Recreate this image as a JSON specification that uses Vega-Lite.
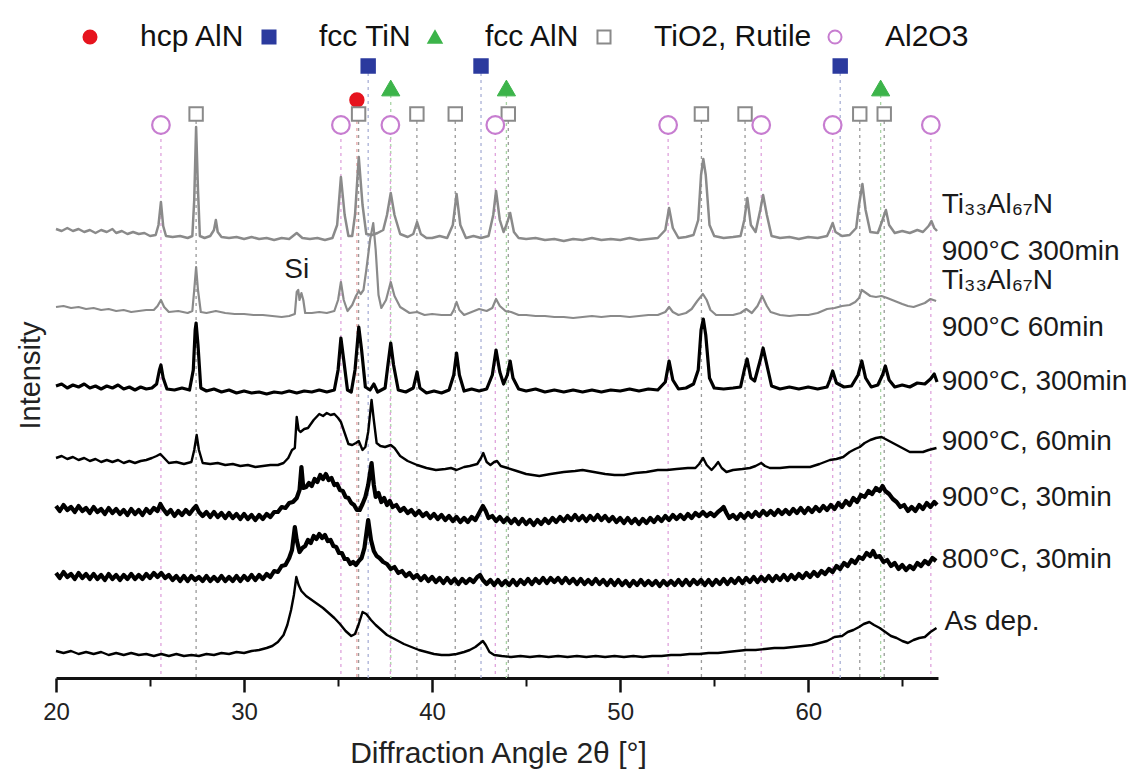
{
"$schema": "https://vega.github.io/schema/vega-lite/v6.json",
"width": 882, "height": 678,
"autosize": {"type": "none"},
"padding": {"left": 56, "top": 0, "right": 200, "bottom": 95},
"background": "white",
"config": {"view": {"stroke": null}, "font": "Liberation Sans"},
"resolve": {"axis": {"x": "independent"}},
"datasets": {
"ph": [
{"phase":"hcp AlN","pos":36.0,"lvl":578},
{"phase":"fcc TiN","pos":36.6,"lvl":612},{"phase":"fcc TiN","pos":42.6,"lvl":612},{"phase":"fcc TiN","pos":61.7,"lvl":612},
{"phase":"fcc AlN","pos":37.8,"lvl":590},{"phase":"fcc AlN","pos":43.95,"lvl":590},{"phase":"fcc AlN","pos":63.85,"lvl":590},
{"phase":"TiO2, Rutile","pos":27.45,"lvl":564},{"phase":"TiO2, Rutile","pos":36.09,"lvl":564},{"phase":"TiO2, Rutile","pos":39.19,"lvl":564},{"phase":"TiO2, Rutile","pos":41.23,"lvl":564},{"phase":"TiO2, Rutile","pos":44.05,"lvl":564},{"phase":"TiO2, Rutile","pos":54.32,"lvl":564},{"phase":"TiO2, Rutile","pos":56.64,"lvl":564},{"phase":"TiO2, Rutile","pos":62.74,"lvl":564},{"phase":"TiO2, Rutile","pos":64.04,"lvl":564},
{"phase":"Al2O3","pos":25.58,"lvl":553},{"phase":"Al2O3","pos":35.15,"lvl":553},{"phase":"Al2O3","pos":37.78,"lvl":553},{"phase":"Al2O3","pos":43.36,"lvl":553},{"phase":"Al2O3","pos":52.55,"lvl":553},{"phase":"Al2O3","pos":57.5,"lvl":553},{"phase":"Al2O3","pos":61.3,"lvl":553},{"phase":"Al2O3","pos":66.52,"lvl":553}
],
"lab": [
{"label":"Ti₃₃Al₆₇N","x":67.1,"y":473},
{"label":"900°C 300min","x":67.1,"y":426},
{"label":"Ti₃₃Al₆₇N","x":67.1,"y":397},
{"label":"900°C 60min","x":67.1,"y":350},
{"label":"900°C, 300min","x":67.1,"y":296},
{"label":"900°C, 60min","x":67.1,"y":236},
{"label":"900°C, 30min","x":67.1,"y":180},
{"label":"800°C, 30min","x":67.1,"y":118},
{"label":"As dep.","x":67.25,"y":56}
],
"si": [{"label":"Si","x":32.8,"y":408}],
"t1": [{"x":20,"y":449},{"x":20.3,"y":447},{"x":20.6,"y":450},{"x":20.9,"y":447},{"x":21.2,"y":449},{"x":21.5,"y":446},{"x":21.8,"y":448},{"x":22.1,"y":445},{"x":22.4,"y":448},{"x":22.7,"y":446},{"x":23,"y":449},{"x":23.2,"y":445},{"x":23.5,"y":447},{"x":23.8,"y":444},{"x":24.1,"y":446},{"x":24.4,"y":444},{"x":24.7,"y":445},{"x":25,"y":442},{"x":25.3,"y":443},{"x":25.45,"y":453},{"x":25.58,"y":476},{"x":25.7,"y":452},{"x":25.85,"y":442},{"x":26.2,"y":441},{"x":26.6,"y":442},{"x":27,"y":440},{"x":27.25,"y":442},{"x":27.35,"y":478},{"x":27.45,"y":551},{"x":27.55,"y":488},{"x":27.65,"y":442},{"x":27.9,"y":440},{"x":28.2,"y":442},{"x":28.4,"y":448},{"x":28.5,"y":458},{"x":28.6,"y":446},{"x":28.8,"y":441},{"x":29.2,"y":440},{"x":29.6,"y":441},{"x":30,"y":439},{"x":30.4,"y":441},{"x":30.8,"y":439},{"x":31.2,"y":440},{"x":31.6,"y":438},{"x":32,"y":440},{"x":32.4,"y":439},{"x":32.8,"y":445},{"x":33.1,"y":440},{"x":33.5,"y":439},{"x":33.9,"y":440},{"x":34.3,"y":438},{"x":34.7,"y":440},{"x":34.95,"y":453},{"x":35.15,"y":501},{"x":35.35,"y":463},{"x":35.55,"y":442},{"x":35.75,"y":442},{"x":35.9,"y":463},{"x":36.1,"y":521},{"x":36.3,"y":473},{"x":36.5,"y":444},{"x":36.8,"y":443},{"x":37.1,"y":445},{"x":37.4,"y":448},{"x":37.6,"y":463},{"x":37.8,"y":485},{"x":38,"y":463},{"x":38.3,"y":444},{"x":38.7,"y":441},{"x":39,"y":444},{"x":39.2,"y":456},{"x":39.4,"y":444},{"x":39.7,"y":440},{"x":40,"y":440},{"x":40.4,"y":442},{"x":40.8,"y":440},{"x":41.1,"y":453},{"x":41.3,"y":484},{"x":41.5,"y":453},{"x":41.8,"y":440},{"x":42.2,"y":442},{"x":42.6,"y":440},{"x":43,"y":442},{"x":43.25,"y":463},{"x":43.4,"y":487},{"x":43.6,"y":458},{"x":43.8,"y":446},{"x":43.95,"y":453},{"x":44.15,"y":465},{"x":44.35,"y":446},{"x":44.6,"y":440},{"x":45,"y":439},{"x":45.5,"y":440},{"x":46,"y":438},{"x":46.5,"y":439},{"x":47,"y":437},{"x":47.5,"y":439},{"x":48,"y":438},{"x":48.5,"y":440},{"x":49,"y":438},{"x":49.5,"y":439},{"x":50,"y":438},{"x":50.5,"y":440},{"x":51,"y":438},{"x":51.5,"y":439},{"x":52,"y":440},{"x":52.4,"y":448},{"x":52.6,"y":470},{"x":52.8,"y":450},{"x":53.1,"y":440},{"x":53.5,"y":441},{"x":53.9,"y":443},{"x":54.15,"y":458},{"x":54.3,"y":503},{"x":54.42,"y":519},{"x":54.55,"y":503},{"x":54.75,"y":453},{"x":55,"y":442},{"x":55.5,"y":440},{"x":56,"y":441},{"x":56.4,"y":442},{"x":56.6,"y":458},{"x":56.76,"y":480},{"x":56.95,"y":453},{"x":57.2,"y":446},{"x":57.45,"y":468},{"x":57.6,"y":483},{"x":57.8,"y":463},{"x":58.05,"y":442},{"x":58.5,"y":440},{"x":59,"y":441},{"x":59.5,"y":439},{"x":60,"y":441},{"x":60.5,"y":440},{"x":61,"y":442},{"x":61.15,"y":448},{"x":61.3,"y":455},{"x":61.45,"y":446},{"x":61.8,"y":442},{"x":62.2,"y":443},{"x":62.55,"y":450},{"x":62.7,"y":473},{"x":62.88,"y":494},{"x":63.05,"y":468},{"x":63.3,"y":446},{"x":63.7,"y":445},{"x":63.95,"y":458},{"x":64.13,"y":468},{"x":64.3,"y":453},{"x":64.6,"y":445},{"x":65,"y":447},{"x":65.4,"y":445},{"x":65.8,"y":448},{"x":66.1,"y":446},{"x":66.4,"y":452},{"x":66.55,"y":457},{"x":66.7,"y":450},{"x":66.85,"y":447}],
"t2": [{"x":20,"y":371},{"x":20.4,"y":372},{"x":20.8,"y":370},{"x":21.2,"y":371},{"x":21.6,"y":369},{"x":22,"y":370},{"x":22.4,"y":368},{"x":22.8,"y":369},{"x":23.2,"y":367},{"x":23.6,"y":368},{"x":24,"y":366},{"x":24.4,"y":367},{"x":24.8,"y":368},{"x":25.2,"y":368},{"x":25.4,"y":372},{"x":25.58,"y":378},{"x":25.75,"y":371},{"x":26,"y":366},{"x":26.5,"y":367},{"x":27,"y":365},{"x":27.25,"y":367},{"x":27.35,"y":388},{"x":27.45,"y":411},{"x":27.55,"y":388},{"x":27.7,"y":366},{"x":28,"y":365},{"x":28.5,"y":367},{"x":29,"y":365},{"x":29.5,"y":364},{"x":30,"y":364},{"x":30.5,"y":363},{"x":31,"y":363},{"x":31.5,"y":362},{"x":32,"y":361},{"x":32.4,"y":362},{"x":32.7,"y":364},{"x":32.8,"y":386},{"x":32.88,"y":388},{"x":32.95,"y":378},{"x":33.05,"y":385},{"x":33.15,"y":378},{"x":33.25,"y":365},{"x":33.6,"y":365},{"x":34,"y":366},{"x":34.4,"y":365},{"x":34.8,"y":367},{"x":35,"y":378},{"x":35.15,"y":396},{"x":35.3,"y":378},{"x":35.5,"y":367},{"x":35.75,"y":373},{"x":35.95,"y":382},{"x":36.1,"y":387},{"x":36.2,"y":384},{"x":36.35,"y":388},{"x":36.5,"y":408},{"x":36.7,"y":438},{"x":36.87,"y":455},{"x":37,"y":428},{"x":37.15,"y":383},{"x":37.3,"y":370},{"x":37.55,"y":378},{"x":37.8,"y":396},{"x":38,"y":382},{"x":38.3,"y":371},{"x":38.8,"y":365},{"x":39.2,"y":366},{"x":39.6,"y":363},{"x":40,"y":364},{"x":40.5,"y":363},{"x":41,"y":363},{"x":41.15,"y":368},{"x":41.3,"y":376},{"x":41.45,"y":368},{"x":41.7,"y":363},{"x":42.1,"y":366},{"x":42.5,"y":369},{"x":42.9,"y":367},{"x":43.2,"y":370},{"x":43.4,"y":379},{"x":43.6,"y":372},{"x":43.9,"y":367},{"x":44.2,"y":366},{"x":44.6,"y":363},{"x":45,"y":363},{"x":45.5,"y":362},{"x":46,"y":362},{"x":46.5,"y":361},{"x":47,"y":361},{"x":47.5,"y":360},{"x":48,"y":361},{"x":48.5,"y":362},{"x":49,"y":361},{"x":49.5,"y":362},{"x":50,"y":362},{"x":50.5,"y":361},{"x":51,"y":362},{"x":51.5,"y":363},{"x":52,"y":363},{"x":52.4,"y":366},{"x":52.6,"y":371},{"x":52.8,"y":366},{"x":53.1,"y":363},{"x":53.5,"y":365},{"x":53.8,"y":369},{"x":54.1,"y":377},{"x":54.4,"y":384},{"x":54.6,"y":378},{"x":54.8,"y":368},{"x":55.1,"y":363},{"x":55.5,"y":363},{"x":56,"y":363},{"x":56.4,"y":365},{"x":56.7,"y":369},{"x":57,"y":365},{"x":57.3,"y":372},{"x":57.55,"y":382},{"x":57.8,"y":372},{"x":58,"y":366},{"x":58.5,"y":363},{"x":59,"y":362},{"x":59.5,"y":363},{"x":60,"y":363},{"x":60.5,"y":365},{"x":61,"y":369},{"x":61.4,"y":370},{"x":61.8,"y":372},{"x":62.2,"y":373},{"x":62.5,"y":376},{"x":62.7,"y":380},{"x":62.85,"y":388},{"x":63,"y":386},{"x":63.3,"y":382},{"x":63.6,"y":381},{"x":63.9,"y":382},{"x":64.2,"y":380},{"x":64.6,"y":377},{"x":65,"y":374},{"x":65.3,"y":372},{"x":65.6,"y":371},{"x":65.9,"y":373},{"x":66.2,"y":375},{"x":66.5,"y":379},{"x":66.8,"y":377}],
"t3": [{"x":20,"y":292},{"x":20.3,"y":294},{"x":20.6,"y":290},{"x":20.9,"y":293},{"x":21.2,"y":291},{"x":21.5,"y":294},{"x":21.8,"y":290},{"x":22.1,"y":292},{"x":22.4,"y":289},{"x":22.7,"y":292},{"x":23,"y":290},{"x":23.3,"y":293},{"x":23.6,"y":289},{"x":23.9,"y":291},{"x":24.2,"y":288},{"x":24.5,"y":291},{"x":24.8,"y":289},{"x":25.1,"y":290},{"x":25.35,"y":294},{"x":25.5,"y":308},{"x":25.58,"y":313},{"x":25.7,"y":300},{"x":25.9,"y":289},{"x":26.3,"y":288},{"x":26.7,"y":290},{"x":27.1,"y":288},{"x":27.3,"y":308},{"x":27.4,"y":348},{"x":27.45,"y":355},{"x":27.55,"y":333},{"x":27.7,"y":290},{"x":28,"y":287},{"x":28.4,"y":289},{"x":28.8,"y":286},{"x":29.2,"y":288},{"x":29.6,"y":285},{"x":30,"y":287},{"x":30.4,"y":285},{"x":30.8,"y":286},{"x":31.2,"y":284},{"x":31.6,"y":286},{"x":32,"y":285},{"x":32.4,"y":287},{"x":32.8,"y":285},{"x":33.2,"y":287},{"x":33.6,"y":286},{"x":34,"y":288},{"x":34.4,"y":286},{"x":34.8,"y":288},{"x":35,"y":308},{"x":35.15,"y":340},{"x":35.3,"y":318},{"x":35.5,"y":288},{"x":35.7,"y":286},{"x":35.9,"y":308},{"x":36.1,"y":351},{"x":36.25,"y":328},{"x":36.45,"y":291},{"x":36.7,"y":288},{"x":36.9,"y":294},{"x":37.1,"y":286},{"x":37.5,"y":290},{"x":37.65,"y":313},{"x":37.8,"y":335},{"x":37.95,"y":313},{"x":38.2,"y":288},{"x":38.6,"y":286},{"x":39,"y":290},{"x":39.2,"y":306},{"x":39.35,"y":290},{"x":39.7,"y":285},{"x":40.1,"y":287},{"x":40.5,"y":285},{"x":40.9,"y":288},{"x":41.15,"y":303},{"x":41.3,"y":325},{"x":41.45,"y":303},{"x":41.7,"y":287},{"x":42.1,"y":289},{"x":42.5,"y":287},{"x":42.9,"y":289},{"x":43.2,"y":303},{"x":43.4,"y":328},{"x":43.6,"y":306},{"x":43.8,"y":294},{"x":44,"y":303},{"x":44.15,"y":317},{"x":44.3,"y":300},{"x":44.6,"y":289},{"x":45,"y":287},{"x":45.5,"y":289},{"x":46,"y":286},{"x":46.5,"y":288},{"x":47,"y":286},{"x":47.5,"y":288},{"x":48,"y":286},{"x":48.5,"y":288},{"x":49,"y":286},{"x":49.5,"y":288},{"x":50,"y":287},{"x":50.5,"y":289},{"x":51,"y":287},{"x":51.5,"y":289},{"x":52,"y":288},{"x":52.4,"y":296},{"x":52.6,"y":317},{"x":52.8,"y":298},{"x":53.1,"y":289},{"x":53.5,"y":290},{"x":53.9,"y":294},{"x":54.15,"y":308},{"x":54.3,"y":348},{"x":54.42,"y":359},{"x":54.55,"y":343},{"x":54.75,"y":300},{"x":55,"y":290},{"x":55.5,"y":289},{"x":56,"y":290},{"x":56.4,"y":291},{"x":56.6,"y":308},{"x":56.75,"y":319},{"x":56.95,"y":300},{"x":57.15,"y":297},{"x":57.45,"y":318},{"x":57.6,"y":330},{"x":57.8,"y":313},{"x":58.05,"y":292},{"x":58.5,"y":289},{"x":59,"y":291},{"x":59.5,"y":289},{"x":60,"y":291},{"x":60.5,"y":289},{"x":61,"y":291},{"x":61.15,"y":298},{"x":61.3,"y":307},{"x":61.5,"y":295},{"x":61.9,"y":291},{"x":62.3,"y":292},{"x":62.65,"y":303},{"x":62.85,"y":317},{"x":63.05,"y":300},{"x":63.35,"y":291},{"x":63.7,"y":293},{"x":63.95,"y":303},{"x":64.1,"y":312},{"x":64.3,"y":298},{"x":64.6,"y":291},{"x":65,"y":293},{"x":65.4,"y":291},{"x":65.8,"y":295},{"x":66.2,"y":294},{"x":66.5,"y":299},{"x":66.7,"y":304},{"x":66.85,"y":296}],
"t4": [{"x":20,"y":220},{"x":20.3,"y":222},{"x":20.6,"y":219},{"x":20.9,"y":221},{"x":21.2,"y":218},{"x":21.5,"y":220},{"x":21.8,"y":217},{"x":22.1,"y":219},{"x":22.4,"y":216},{"x":22.7,"y":218},{"x":23,"y":216},{"x":23.3,"y":218},{"x":23.6,"y":215},{"x":23.9,"y":217},{"x":24.2,"y":215},{"x":24.5,"y":217},{"x":24.8,"y":218},{"x":25.1,"y":220},{"x":25.35,"y":222},{"x":25.55,"y":224},{"x":25.75,"y":220},{"x":26,"y":215},{"x":26.4,"y":216},{"x":26.8,"y":214},{"x":27.2,"y":216},{"x":27.35,"y":228},{"x":27.48,"y":243},{"x":27.6,"y":228},{"x":27.8,"y":215},{"x":28.2,"y":214},{"x":28.6,"y":215},{"x":29,"y":213},{"x":29.4,"y":214},{"x":29.8,"y":212},{"x":30.2,"y":213},{"x":30.6,"y":211},{"x":31,"y":212},{"x":31.4,"y":213},{"x":31.8,"y":213},{"x":32.1,"y":215},{"x":32.35,"y":220},{"x":32.55,"y":228},{"x":32.7,"y":230},{"x":32.8,"y":261},{"x":32.9,"y":248},{"x":33,"y":246},{"x":33.2,"y":249},{"x":33.4,"y":250},{"x":33.7,"y":258},{"x":34,"y":264},{"x":34.2,"y":262},{"x":34.4,"y":265},{"x":34.6,"y":263},{"x":34.8,"y":264},{"x":35,"y":260},{"x":35.15,"y":256},{"x":35.35,"y":245},{"x":35.55,"y":234},{"x":35.75,"y":233},{"x":35.95,"y":235},{"x":36.1,"y":237},{"x":36.3,"y":228},{"x":36.45,"y":231},{"x":36.6,"y":246},{"x":36.78,"y":278},{"x":36.9,"y":258},{"x":37.05,"y":235},{"x":37.25,"y":232},{"x":37.5,"y":231},{"x":37.8,"y":233},{"x":38,"y":230},{"x":38.3,"y":222},{"x":38.7,"y":217},{"x":39.2,"y":213},{"x":39.7,"y":210},{"x":40.2,"y":208},{"x":40.7,"y":209},{"x":41,"y":210},{"x":41.3,"y":208},{"x":41.7,"y":211},{"x":42,"y":212},{"x":42.4,"y":214},{"x":42.6,"y":220},{"x":42.72,"y":225},{"x":42.9,"y":216},{"x":43.1,"y":213},{"x":43.3,"y":216},{"x":43.45,"y":217},{"x":43.65,"y":212},{"x":44,"y":210},{"x":44.5,"y":207},{"x":45,"y":204},{"x":45.7,"y":202},{"x":46.3,"y":204},{"x":47,"y":206},{"x":47.6,"y":207},{"x":48,"y":208},{"x":48.6,"y":206},{"x":49.2,"y":204},{"x":49.7,"y":203},{"x":50.2,"y":203},{"x":50.8,"y":205},{"x":51.4,"y":206},{"x":52,"y":208},{"x":52.5,"y":208},{"x":53,"y":209},{"x":53.6,"y":210},{"x":54,"y":210},{"x":54.2,"y":214},{"x":54.41,"y":220},{"x":54.6,"y":213},{"x":54.86,"y":208},{"x":55.05,"y":212},{"x":55.21,"y":216},{"x":55.4,"y":210},{"x":55.65,"y":206},{"x":56,"y":208},{"x":56.5,"y":209},{"x":56.9,"y":210},{"x":57.2,"y":212},{"x":57.5,"y":215},{"x":57.7,"y":212},{"x":57.96,"y":210},{"x":58.5,"y":210},{"x":59,"y":211},{"x":59.5,"y":211},{"x":60.1,"y":211},{"x":60.6,"y":214},{"x":61.15,"y":218},{"x":61.5,"y":219},{"x":61.86,"y":221},{"x":62.2,"y":226},{"x":62.5,"y":229},{"x":62.74,"y":231},{"x":63,"y":235},{"x":63.3,"y":238},{"x":63.6,"y":240},{"x":63.9,"y":241},{"x":64.1,"y":239},{"x":64.4,"y":236},{"x":64.7,"y":233},{"x":65,"y":230},{"x":65.4,"y":226},{"x":65.8,"y":226},{"x":66.1,"y":226},{"x":66.4,"y":228},{"x":66.82,"y":230}],
"t5": [{"x":20,"y":172},{"x":20.2,"y":167},{"x":20.4,"y":173},{"x":20.6,"y":168},{"x":20.8,"y":171},{"x":21,"y":166},{"x":21.2,"y":172},{"x":21.4,"y":167},{"x":21.6,"y":170},{"x":21.8,"y":165},{"x":22,"y":171},{"x":22.2,"y":166},{"x":22.4,"y":169},{"x":22.6,"y":164},{"x":22.8,"y":170},{"x":23,"y":165},{"x":23.2,"y":169},{"x":23.4,"y":164},{"x":23.6,"y":168},{"x":23.8,"y":163},{"x":24,"y":169},{"x":24.2,"y":164},{"x":24.4,"y":168},{"x":24.6,"y":163},{"x":24.8,"y":169},{"x":25,"y":165},{"x":25.2,"y":170},{"x":25.4,"y":167},{"x":25.55,"y":174},{"x":25.7,"y":169},{"x":25.9,"y":164},{"x":26.1,"y":168},{"x":26.3,"y":162},{"x":26.5,"y":167},{"x":26.7,"y":163},{"x":26.9,"y":168},{"x":27.1,"y":164},{"x":27.3,"y":169},{"x":27.45,"y":172},{"x":27.6,"y":166},{"x":27.8,"y":162},{"x":28,"y":166},{"x":28.2,"y":161},{"x":28.4,"y":166},{"x":28.6,"y":161},{"x":28.8,"y":165},{"x":29,"y":160},{"x":29.2,"y":165},{"x":29.4,"y":160},{"x":29.6,"y":164},{"x":29.8,"y":159},{"x":30,"y":164},{"x":30.2,"y":159},{"x":30.4,"y":163},{"x":30.6,"y":158},{"x":30.8,"y":163},{"x":31,"y":159},{"x":31.2,"y":164},{"x":31.4,"y":161},{"x":31.6,"y":166},{"x":31.8,"y":166},{"x":32,"y":171},{"x":32.2,"y":170},{"x":32.4,"y":175},{"x":32.6,"y":176},{"x":32.8,"y":180},{"x":32.95,"y":188},{"x":33.05,"y":211},{"x":33.15,"y":190},{"x":33.3,"y":191},{"x":33.45,"y":195},{"x":33.6,"y":192},{"x":33.75,"y":199},{"x":33.9,"y":196},{"x":34.05,"y":203},{"x":34.2,"y":199},{"x":34.35,"y":204},{"x":34.5,"y":198},{"x":34.65,"y":200},{"x":34.8,"y":193},{"x":34.95,"y":194},{"x":35.1,"y":188},{"x":35.25,"y":187},{"x":35.4,"y":181},{"x":35.55,"y":180},{"x":35.7,"y":175},{"x":35.85,"y":173},{"x":36,"y":168},{"x":36.15,"y":168},{"x":36.3,"y":174},{"x":36.45,"y":181},{"x":36.6,"y":193},{"x":36.78,"y":215},{"x":36.9,"y":193},{"x":37,"y":181},{"x":37.15,"y":185},{"x":37.3,"y":176},{"x":37.45,"y":180},{"x":37.6,"y":173},{"x":37.75,"y":177},{"x":37.9,"y":171},{"x":38.1,"y":173},{"x":38.3,"y":167},{"x":38.5,"y":170},{"x":38.7,"y":165},{"x":38.9,"y":168},{"x":39.1,"y":163},{"x":39.3,"y":167},{"x":39.5,"y":162},{"x":39.7,"y":165},{"x":39.9,"y":160},{"x":40.1,"y":164},{"x":40.3,"y":159},{"x":40.5,"y":163},{"x":40.7,"y":158},{"x":40.9,"y":162},{"x":41.1,"y":157},{"x":41.3,"y":161},{"x":41.5,"y":156},{"x":41.7,"y":160},{"x":41.9,"y":156},{"x":42.1,"y":161},{"x":42.3,"y":158},{"x":42.5,"y":165},{"x":42.7,"y":172},{"x":42.85,"y":167},{"x":43,"y":160},{"x":43.2,"y":162},{"x":43.4,"y":157},{"x":43.6,"y":161},{"x":43.8,"y":156},{"x":44,"y":160},{"x":44.2,"y":155},{"x":44.4,"y":159},{"x":44.6,"y":154},{"x":44.8,"y":159},{"x":45,"y":154},{"x":45.2,"y":158},{"x":45.4,"y":153},{"x":45.6,"y":158},{"x":45.8,"y":154},{"x":46,"y":159},{"x":46.2,"y":155},{"x":46.4,"y":160},{"x":46.6,"y":156},{"x":46.8,"y":161},{"x":47,"y":157},{"x":47.2,"y":162},{"x":47.4,"y":158},{"x":47.6,"y":163},{"x":47.8,"y":158},{"x":48,"y":162},{"x":48.2,"y":157},{"x":48.4,"y":162},{"x":48.6,"y":158},{"x":48.8,"y":163},{"x":49,"y":158},{"x":49.2,"y":162},{"x":49.4,"y":157},{"x":49.6,"y":161},{"x":49.8,"y":156},{"x":50,"y":160},{"x":50.2,"y":155},{"x":50.4,"y":160},{"x":50.6,"y":155},{"x":50.8,"y":159},{"x":51,"y":154},{"x":51.2,"y":159},{"x":51.4,"y":155},{"x":51.6,"y":160},{"x":51.8,"y":156},{"x":52,"y":161},{"x":52.2,"y":157},{"x":52.4,"y":162},{"x":52.6,"y":158},{"x":52.8,"y":163},{"x":53,"y":159},{"x":53.2,"y":163},{"x":53.4,"y":159},{"x":53.6,"y":164},{"x":53.8,"y":160},{"x":54,"y":165},{"x":54.2,"y":162},{"x":54.4,"y":166},{"x":54.6,"y":162},{"x":54.8,"y":165},{"x":55,"y":162},{"x":55.2,"y":166},{"x":55.4,"y":169},{"x":55.5,"y":171},{"x":55.65,"y":165},{"x":55.8,"y":160},{"x":56,"y":163},{"x":56.2,"y":159},{"x":56.4,"y":164},{"x":56.6,"y":160},{"x":56.8,"y":165},{"x":57,"y":161},{"x":57.2,"y":166},{"x":57.4,"y":162},{"x":57.6,"y":167},{"x":57.8,"y":163},{"x":58,"y":167},{"x":58.2,"y":163},{"x":58.4,"y":168},{"x":58.6,"y":164},{"x":58.8,"y":168},{"x":59,"y":164},{"x":59.2,"y":169},{"x":59.4,"y":165},{"x":59.6,"y":170},{"x":59.8,"y":165},{"x":60,"y":170},{"x":60.2,"y":166},{"x":60.4,"y":171},{"x":60.6,"y":167},{"x":60.8,"y":172},{"x":61,"y":168},{"x":61.2,"y":173},{"x":61.4,"y":169},{"x":61.6,"y":175},{"x":61.8,"y":171},{"x":62,"y":177},{"x":62.2,"y":173},{"x":62.4,"y":180},{"x":62.6,"y":176},{"x":62.8,"y":183},{"x":63,"y":181},{"x":63.2,"y":187},{"x":63.4,"y":184},{"x":63.6,"y":190},{"x":63.8,"y":187},{"x":63.95,"y":192},{"x":64.1,"y":187},{"x":64.3,"y":184},{"x":64.5,"y":179},{"x":64.7,"y":176},{"x":64.9,"y":171},{"x":65.1,"y":173},{"x":65.3,"y":167},{"x":65.5,"y":171},{"x":65.7,"y":167},{"x":65.9,"y":173},{"x":66.1,"y":169},{"x":66.3,"y":175},{"x":66.5,"y":171},{"x":66.7,"y":176},{"x":66.85,"y":173}],
"t6": [{"x":20,"y":105},{"x":20.2,"y":100},{"x":20.4,"y":106},{"x":20.6,"y":101},{"x":20.8,"y":104},{"x":21,"y":99},{"x":21.2,"y":105},{"x":21.4,"y":100},{"x":21.6,"y":104},{"x":21.8,"y":99},{"x":22,"y":104},{"x":22.2,"y":99},{"x":22.4,"y":103},{"x":22.6,"y":98},{"x":22.8,"y":104},{"x":23,"y":99},{"x":23.2,"y":103},{"x":23.4,"y":98},{"x":23.6,"y":103},{"x":23.8,"y":99},{"x":24,"y":104},{"x":24.2,"y":99},{"x":24.4,"y":103},{"x":24.6,"y":99},{"x":24.8,"y":104},{"x":25,"y":100},{"x":25.2,"y":105},{"x":25.4,"y":101},{"x":25.6,"y":105},{"x":25.8,"y":100},{"x":26,"y":103},{"x":26.2,"y":98},{"x":26.4,"y":102},{"x":26.6,"y":97},{"x":26.8,"y":102},{"x":27,"y":97},{"x":27.2,"y":102},{"x":27.4,"y":98},{"x":27.6,"y":101},{"x":27.8,"y":97},{"x":28,"y":102},{"x":28.2,"y":97},{"x":28.4,"y":101},{"x":28.6,"y":97},{"x":28.8,"y":102},{"x":29,"y":97},{"x":29.2,"y":101},{"x":29.4,"y":97},{"x":29.6,"y":102},{"x":29.8,"y":97},{"x":30,"y":102},{"x":30.2,"y":98},{"x":30.4,"y":103},{"x":30.6,"y":98},{"x":30.8,"y":103},{"x":31,"y":99},{"x":31.2,"y":104},{"x":31.4,"y":101},{"x":31.6,"y":107},{"x":31.8,"y":106},{"x":32,"y":112},{"x":32.2,"y":113},{"x":32.4,"y":120},{"x":32.55,"y":128},{"x":32.7,"y":151},{"x":32.8,"y":138},{"x":32.95,"y":126},{"x":33.1,"y":130},{"x":33.25,"y":132},{"x":33.4,"y":138},{"x":33.55,"y":135},{"x":33.7,"y":142},{"x":33.85,"y":139},{"x":34,"y":144},{"x":34.15,"y":140},{"x":34.3,"y":143},{"x":34.45,"y":137},{"x":34.6,"y":138},{"x":34.75,"y":132},{"x":34.9,"y":131},{"x":35.05,"y":125},{"x":35.2,"y":125},{"x":35.35,"y":119},{"x":35.5,"y":119},{"x":35.65,"y":114},{"x":35.8,"y":116},{"x":35.95,"y":113},{"x":36.1,"y":117},{"x":36.25,"y":120},{"x":36.4,"y":130},{"x":36.6,"y":158},{"x":36.75,"y":138},{"x":36.9,"y":127},{"x":37.05,"y":122},{"x":37.2,"y":120},{"x":37.4,"y":116},{"x":37.6,"y":114},{"x":37.8,"y":109},{"x":38,"y":111},{"x":38.2,"y":105},{"x":38.4,"y":107},{"x":38.6,"y":102},{"x":38.8,"y":105},{"x":39,"y":100},{"x":39.2,"y":103},{"x":39.4,"y":98},{"x":39.6,"y":102},{"x":39.8,"y":97},{"x":40,"y":101},{"x":40.2,"y":96},{"x":40.4,"y":100},{"x":40.6,"y":95},{"x":40.8,"y":100},{"x":41,"y":95},{"x":41.2,"y":99},{"x":41.4,"y":94},{"x":41.6,"y":99},{"x":41.8,"y":95},{"x":42,"y":99},{"x":42.2,"y":96},{"x":42.4,"y":101},{"x":42.55,"y":103},{"x":42.7,"y":98},{"x":42.9,"y":94},{"x":43.1,"y":98},{"x":43.3,"y":93},{"x":43.5,"y":98},{"x":43.7,"y":93},{"x":43.9,"y":97},{"x":44.1,"y":93},{"x":44.3,"y":98},{"x":44.5,"y":93},{"x":44.7,"y":98},{"x":44.9,"y":94},{"x":45.1,"y":99},{"x":45.3,"y":94},{"x":45.5,"y":99},{"x":45.7,"y":95},{"x":45.9,"y":100},{"x":46.1,"y":95},{"x":46.3,"y":100},{"x":46.5,"y":96},{"x":46.7,"y":100},{"x":46.9,"y":95},{"x":47.1,"y":100},{"x":47.3,"y":95},{"x":47.5,"y":99},{"x":47.7,"y":94},{"x":47.9,"y":99},{"x":48.1,"y":94},{"x":48.3,"y":98},{"x":48.5,"y":94},{"x":48.7,"y":99},{"x":48.9,"y":94},{"x":49.1,"y":98},{"x":49.3,"y":93},{"x":49.5,"y":98},{"x":49.7,"y":93},{"x":49.9,"y":98},{"x":50.1,"y":93},{"x":50.3,"y":97},{"x":50.5,"y":92},{"x":50.7,"y":97},{"x":50.9,"y":93},{"x":51.1,"y":98},{"x":51.3,"y":93},{"x":51.5,"y":97},{"x":51.7,"y":93},{"x":51.9,"y":97},{"x":52.1,"y":92},{"x":52.3,"y":97},{"x":52.5,"y":93},{"x":52.7,"y":97},{"x":52.9,"y":93},{"x":53.1,"y":98},{"x":53.3,"y":93},{"x":53.5,"y":98},{"x":53.7,"y":93},{"x":53.9,"y":98},{"x":54.1,"y":94},{"x":54.3,"y":98},{"x":54.5,"y":93},{"x":54.7,"y":98},{"x":54.9,"y":93},{"x":55.1,"y":98},{"x":55.3,"y":94},{"x":55.5,"y":99},{"x":55.7,"y":94},{"x":55.9,"y":99},{"x":56.1,"y":95},{"x":56.3,"y":100},{"x":56.5,"y":95},{"x":56.7,"y":100},{"x":56.9,"y":96},{"x":57.1,"y":101},{"x":57.3,"y":96},{"x":57.5,"y":101},{"x":57.7,"y":97},{"x":57.9,"y":102},{"x":58.1,"y":97},{"x":58.3,"y":102},{"x":58.5,"y":98},{"x":58.7,"y":103},{"x":58.9,"y":98},{"x":59.1,"y":103},{"x":59.3,"y":99},{"x":59.5,"y":104},{"x":59.7,"y":100},{"x":59.9,"y":105},{"x":60.1,"y":101},{"x":60.3,"y":106},{"x":60.5,"y":102},{"x":60.7,"y":107},{"x":60.9,"y":104},{"x":61.1,"y":109},{"x":61.3,"y":106},{"x":61.5,"y":112},{"x":61.7,"y":109},{"x":61.9,"y":115},{"x":62.1,"y":112},{"x":62.3,"y":118},{"x":62.5,"y":115},{"x":62.7,"y":121},{"x":62.9,"y":119},{"x":63.1,"y":125},{"x":63.3,"y":122},{"x":63.45,"y":127},{"x":63.6,"y":121},{"x":63.8,"y":122},{"x":64,"y":116},{"x":64.2,"y":118},{"x":64.4,"y":112},{"x":64.6,"y":115},{"x":64.8,"y":109},{"x":65,"y":113},{"x":65.2,"y":108},{"x":65.4,"y":112},{"x":65.6,"y":109},{"x":65.8,"y":115},{"x":66,"y":112},{"x":66.2,"y":117},{"x":66.4,"y":114},{"x":66.6,"y":120},{"x":66.8,"y":117}],
"t7": [{"x":20,"y":27},{"x":20.4,"y":25},{"x":20.8,"y":27},{"x":21.2,"y":24},{"x":21.6,"y":26},{"x":22,"y":24},{"x":22.4,"y":26},{"x":22.8,"y":23},{"x":23.2,"y":25},{"x":23.6,"y":23},{"x":24,"y":25},{"x":24.4,"y":23},{"x":24.8,"y":24},{"x":25.2,"y":22},{"x":25.6,"y":24},{"x":26,"y":22},{"x":26.4,"y":24},{"x":26.8,"y":22},{"x":27.2,"y":23},{"x":27.6,"y":22},{"x":28,"y":24},{"x":28.4,"y":23},{"x":28.8,"y":25},{"x":29.2,"y":24},{"x":29.6,"y":26},{"x":30,"y":25},{"x":30.4,"y":27},{"x":30.8,"y":28},{"x":31.2,"y":30},{"x":31.5,"y":32},{"x":31.8,"y":36},{"x":32.1,"y":43},{"x":32.3,"y":53},{"x":32.5,"y":68},{"x":32.65,"y":83},{"x":32.78,"y":101},{"x":32.9,"y":93},{"x":33.05,"y":87},{"x":33.3,"y":82},{"x":33.6,"y":78},{"x":33.9,"y":74},{"x":34.2,"y":70},{"x":34.5,"y":65},{"x":34.8,"y":60},{"x":35.1,"y":54},{"x":35.4,"y":47},{"x":35.7,"y":42},{"x":35.9,"y":44},{"x":36.1,"y":54},{"x":36.3,"y":66},{"x":36.5,"y":64},{"x":36.75,"y":58},{"x":37,"y":53},{"x":37.3,"y":48},{"x":37.6,"y":43},{"x":37.9,"y":40},{"x":38.2,"y":37},{"x":38.5,"y":34},{"x":38.9,"y":31},{"x":39.3,"y":28},{"x":39.7,"y":26},{"x":40.1,"y":24},{"x":40.5,"y":23},{"x":40.9,"y":23},{"x":41.3,"y":24},{"x":41.7,"y":26},{"x":42,"y":28},{"x":42.3,"y":31},{"x":42.5,"y":34},{"x":42.7,"y":37},{"x":42.85,"y":33},{"x":43.05,"y":26},{"x":43.3,"y":23},{"x":43.7,"y":22},{"x":44.2,"y":21},{"x":44.7,"y":22},{"x":45.2,"y":21},{"x":45.7,"y":22},{"x":46.2,"y":21},{"x":46.7,"y":22},{"x":47.2,"y":21},{"x":47.7,"y":22},{"x":48.2,"y":21},{"x":48.7,"y":22},{"x":49.2,"y":21},{"x":49.7,"y":22},{"x":50.2,"y":21},{"x":50.7,"y":22},{"x":51.2,"y":21},{"x":51.7,"y":22},{"x":52.2,"y":22},{"x":52.7,"y":23},{"x":53.2,"y":23},{"x":53.7,"y":24},{"x":54.2,"y":24},{"x":54.7,"y":25},{"x":55.2,"y":25},{"x":55.7,"y":26},{"x":56.2,"y":27},{"x":56.7,"y":28},{"x":57.2,"y":28},{"x":57.7,"y":29},{"x":58.2,"y":30},{"x":58.7,"y":30},{"x":59.2,"y":31},{"x":59.7,"y":32},{"x":60.2,"y":33},{"x":60.6,"y":35},{"x":61,"y":37},{"x":61.4,"y":41},{"x":61.8,"y":42},{"x":62.1,"y":46},{"x":62.4,"y":48},{"x":62.7,"y":51},{"x":62.95,"y":54},{"x":63.25,"y":56},{"x":63.5,"y":53},{"x":63.8,"y":50},{"x":64.1,"y":46},{"x":64.4,"y":42},{"x":64.7,"y":40},{"x":65,"y":37},{"x":65.3,"y":35},{"x":65.6,"y":38},{"x":65.9,"y":40},{"x":66.2,"y":41},{"x":66.5,"y":46},{"x":66.82,"y":50}]
},
"layer": [
{"data": {"name": "ph"},
 "mark": {"type": "rule", "strokeDash": [3, 4], "strokeWidth": 1.3},
 "encoding": {
  "x": {"field": "pos", "type": "quantitative", "scale": {"domain": [20, 66.9], "nice": false, "zero": false},
        "axis": {"orient": "bottom", "values": [25, 35, 45, 55, 65], "title": null, "labels": false, "domain": false, "grid": false, "tickSize": 8, "tickWidth": 2, "tickColor": "#111"}},
  "y": {"field": "lvl", "type": "quantitative", "scale": {"domain": [0, 678], "nice": false, "zero": false},
        "axis": {"title": "Intensity", "labels": false, "ticks": false, "domain": false, "grid": false, "titleFontSize": 29, "titleFont": "Liberation Sans", "titleFontWeight": "normal", "titleColor": "#222", "titleAngle": -90, "titleX": -17, "titleY": 375, "titleAlign": "center", "titleBaseline": "alphabetic"}},
  "y2": {"datum": 0},
  "color": {"field": "phase", "type": "nominal", "legend": null,
            "scale": {"domain": ["Al2O3", "TiO2, Rutile", "fcc AlN", "fcc TiN", "hcp AlN"], "range": ["#dfa3dc", "#9a9a9a", "#a9d4a4", "#a9b0d6", "#e8a6a6"]}}
 }},
{"data": {"name": "t1"}, "mark": {"type": "line", "color": "#8a8a8a", "strokeWidth": 2.5, "strokeJoin": "round"},
 "encoding": {"x": {"field": "x", "type": "quantitative", "scale": {"domain": [20, 66.9], "nice": false, "zero": false}, "axis": null},
              "y": {"field": "y", "type": "quantitative", "scale": {"domain": [0, 678], "nice": false, "zero": false},
                    "axis": {"title": "Intensity", "labels": false, "ticks": false, "domain": false, "grid": false, "titleFontSize": 29, "titleFont": "Liberation Sans", "titleFontWeight": "normal", "titleColor": "#222", "titleAngle": -90, "titleX": -17, "titleY": 375, "titleAlign": "center", "titleBaseline": "alphabetic"}}}},
{"data": {"name": "t2"}, "mark": {"type": "line", "color": "#8a8a8a", "strokeWidth": 2.2, "strokeJoin": "round"},
 "encoding": {"x": {"field": "x", "type": "quantitative", "scale": {"domain": [20, 66.9], "nice": false, "zero": false}, "axis": null},
              "y": {"field": "y", "type": "quantitative", "scale": {"domain": [0, 678], "nice": false, "zero": false},
                    "axis": {"title": "Intensity", "labels": false, "ticks": false, "domain": false, "grid": false, "titleFontSize": 29, "titleFont": "Liberation Sans", "titleFontWeight": "normal", "titleColor": "#222", "titleAngle": -90, "titleX": -17, "titleY": 375, "titleAlign": "center", "titleBaseline": "alphabetic"}}}},
{"data": {"name": "t3"}, "mark": {"type": "line", "color": "#000000", "strokeWidth": 3.2, "strokeJoin": "round"},
 "encoding": {"x": {"field": "x", "type": "quantitative", "scale": {"domain": [20, 66.9], "nice": false, "zero": false}, "axis": null},
              "y": {"field": "y", "type": "quantitative", "scale": {"domain": [0, 678], "nice": false, "zero": false},
                    "axis": {"title": "Intensity", "labels": false, "ticks": false, "domain": false, "grid": false, "titleFontSize": 29, "titleFont": "Liberation Sans", "titleFontWeight": "normal", "titleColor": "#222", "titleAngle": -90, "titleX": -17, "titleY": 375, "titleAlign": "center", "titleBaseline": "alphabetic"}}}},
{"data": {"name": "t4"}, "mark": {"type": "line", "color": "#000000", "strokeWidth": 2.4, "strokeJoin": "round"},
 "encoding": {"x": {"field": "x", "type": "quantitative", "scale": {"domain": [20, 66.9], "nice": false, "zero": false}, "axis": null},
              "y": {"field": "y", "type": "quantitative", "scale": {"domain": [0, 678], "nice": false, "zero": false},
                    "axis": {"title": "Intensity", "labels": false, "ticks": false, "domain": false, "grid": false, "titleFontSize": 29, "titleFont": "Liberation Sans", "titleFontWeight": "normal", "titleColor": "#222", "titleAngle": -90, "titleX": -17, "titleY": 375, "titleAlign": "center", "titleBaseline": "alphabetic"}}}},
{"data": {"name": "t5"}, "mark": {"type": "line", "color": "#000000", "strokeWidth": 4.2, "strokeJoin": "round"},
 "encoding": {"x": {"field": "x", "type": "quantitative", "scale": {"domain": [20, 66.9], "nice": false, "zero": false}, "axis": null},
              "y": {"field": "y", "type": "quantitative", "scale": {"domain": [0, 678], "nice": false, "zero": false},
                    "axis": {"title": "Intensity", "labels": false, "ticks": false, "domain": false, "grid": false, "titleFontSize": 29, "titleFont": "Liberation Sans", "titleFontWeight": "normal", "titleColor": "#222", "titleAngle": -90, "titleX": -17, "titleY": 375, "titleAlign": "center", "titleBaseline": "alphabetic"}}}},
{"data": {"name": "t6"}, "mark": {"type": "line", "color": "#000000", "strokeWidth": 4.2, "strokeJoin": "round"},
 "encoding": {"x": {"field": "x", "type": "quantitative", "scale": {"domain": [20, 66.9], "nice": false, "zero": false}, "axis": null},
              "y": {"field": "y", "type": "quantitative", "scale": {"domain": [0, 678], "nice": false, "zero": false},
                    "axis": {"title": "Intensity", "labels": false, "ticks": false, "domain": false, "grid": false, "titleFontSize": 29, "titleFont": "Liberation Sans", "titleFontWeight": "normal", "titleColor": "#222", "titleAngle": -90, "titleX": -17, "titleY": 375, "titleAlign": "center", "titleBaseline": "alphabetic"}}}},
{"data": {"name": "t7"}, "mark": {"type": "line", "color": "#000000", "strokeWidth": 2.4, "strokeJoin": "round"},
 "encoding": {
  "x": {"field": "x", "type": "quantitative", "scale": {"domain": [20, 66.9], "nice": false, "zero": false},
        "axis": {"orient": "bottom", "values": [20, 30, 40, 50, 60], "format": "d", "title": "Diffraction Angle 2θ [°]", "grid": false,
                 "tickSize": 14, "tickWidth": 2.5, "tickColor": "#111", "domainColor": "#111", "domainWidth": 3,
                 "labelFontSize": 24, "labelFont": "Liberation Sans", "labelColor": "#222", "labelPadding": 8, "labelFlush": false,
                 "titleFontSize": 30, "titleFont": "Liberation Sans", "titleFontWeight": "normal", "titleColor": "#222",
                 "titleX": 442, "titleY": 84, "titleAlign": "center", "titleBaseline": "alphabetic"}},
  "y": {"field": "y", "type": "quantitative", "scale": {"domain": [0, 678], "nice": false, "zero": false},
        "axis": {"title": "Intensity", "labels": false, "ticks": false, "domain": false, "grid": false, "titleFontSize": 29, "titleFont": "Liberation Sans", "titleFontWeight": "normal", "titleColor": "#222", "titleAngle": -90, "titleX": -17, "titleY": 375, "titleAlign": "center", "titleBaseline": "alphabetic"}}
 }},
{"data": {"name": "ph"},
 "transform": [{"filter": {"field": "phase", "oneOf": ["hcp AlN", "fcc TiN", "TiO2, Rutile"]}}],
 "mark": {"type": "point", "filled": true, "size": 180, "strokeWidth": 2, "opacity": 1},
 "encoding": {
  "x": {"field": "pos", "type": "quantitative", "scale": {"domain": [20, 66.9], "nice": false, "zero": false}, "axis": null},
  "y": {"field": "lvl", "type": "quantitative", "scale": {"domain": [0, 678], "nice": false, "zero": false},
        "axis": {"title": "Intensity", "labels": false, "ticks": false, "domain": false, "grid": false, "titleFontSize": 29, "titleFont": "Liberation Sans", "titleFontWeight": "normal", "titleColor": "#222", "titleAngle": -90, "titleX": -17, "titleY": 375, "titleAlign": "center", "titleBaseline": "alphabetic"}},
  "shape": {"field": "phase", "type": "nominal", "scale": {"domain": ["hcp AlN", "fcc TiN", "fcc AlN", "TiO2, Rutile", "Al2O3"], "range": ["circle", "square", "triangle-up", "square", "circle"]},
            "legend": {"orient": "none", "legendX": 19, "legendY": 22, "direction": "horizontal", "title": null, "labelFontSize": 30, "labelFont": "Liberation Sans", "labelColor": "#111", "labelOffset": 35, "columnPadding": 8, "symbolSize": 170, "symbolStrokeWidth": 2, "padding": 0, "labelLimit": 400}},
  "fill": {"field": "phase", "type": "nominal", "scale": {"domain": ["hcp AlN", "fcc TiN", "fcc AlN", "TiO2, Rutile", "Al2O3"], "range": ["#e6141e", "#2b3a9e", "#3cb44a", "#ffffff", "#ffffff"]},
            "legend": {"orient": "none", "legendX": 19, "legendY": 22, "direction": "horizontal", "title": null, "labelFontSize": 30, "labelFont": "Liberation Sans", "labelColor": "#111", "labelOffset": 35, "columnPadding": 8, "symbolSize": 170, "symbolStrokeWidth": 2, "padding": 0, "labelLimit": 400}},
  "stroke": {"field": "phase", "type": "nominal", "scale": {"domain": ["hcp AlN", "fcc TiN", "fcc AlN", "TiO2, Rutile", "Al2O3"], "range": ["#e6141e", "#2b3a9e", "#3cb44a", "#8a8a8a", "#c77dd0"]},
            "legend": {"orient": "none", "legendX": 19, "legendY": 22, "direction": "horizontal", "title": null, "labelFontSize": 30, "labelFont": "Liberation Sans", "labelColor": "#111", "labelOffset": 35, "columnPadding": 8, "symbolSize": 170, "symbolStrokeWidth": 2, "padding": 0, "labelLimit": 400}}
 }},
{"data": {"name": "ph"},
 "transform": [{"filter": {"field": "phase", "oneOf": ["fcc AlN"]}}],
 "mark": {"type": "point", "filled": true, "size": 330, "strokeWidth": 1, "opacity": 1},
 "encoding": {
  "x": {"field": "pos", "type": "quantitative", "scale": {"domain": [20, 66.9], "nice": false, "zero": false}, "axis": null},
  "y": {"field": "lvl", "type": "quantitative", "scale": {"domain": [0, 678], "nice": false, "zero": false},
        "axis": {"title": "Intensity", "labels": false, "ticks": false, "domain": false, "grid": false, "titleFontSize": 29, "titleFont": "Liberation Sans", "titleFontWeight": "normal", "titleColor": "#222", "titleAngle": -90, "titleX": -17, "titleY": 375, "titleAlign": "center", "titleBaseline": "alphabetic"}},
  "shape": {"field": "phase", "type": "nominal", "scale": {"domain": ["hcp AlN", "fcc TiN", "fcc AlN", "TiO2, Rutile", "Al2O3"], "range": ["circle", "square", "triangle-up", "square", "circle"]},
            "legend": {"orient": "none", "legendX": 19, "legendY": 22, "direction": "horizontal", "title": null, "labelFontSize": 30, "labelFont": "Liberation Sans", "labelColor": "#111", "labelOffset": 35, "columnPadding": 8, "symbolSize": 170, "symbolStrokeWidth": 2, "padding": 0, "labelLimit": 400}},
  "fill": {"field": "phase", "type": "nominal", "scale": {"domain": ["hcp AlN", "fcc TiN", "fcc AlN", "TiO2, Rutile", "Al2O3"], "range": ["#e6141e", "#2b3a9e", "#3cb44a", "#ffffff", "#ffffff"]},
            "legend": {"orient": "none", "legendX": 19, "legendY": 22, "direction": "horizontal", "title": null, "labelFontSize": 30, "labelFont": "Liberation Sans", "labelColor": "#111", "labelOffset": 35, "columnPadding": 8, "symbolSize": 170, "symbolStrokeWidth": 2, "padding": 0, "labelLimit": 400}},
  "stroke": {"field": "phase", "type": "nominal", "scale": {"domain": ["hcp AlN", "fcc TiN", "fcc AlN", "TiO2, Rutile", "Al2O3"], "range": ["#e6141e", "#2b3a9e", "#3cb44a", "#8a8a8a", "#c77dd0"]},
            "legend": {"orient": "none", "legendX": 19, "legendY": 22, "direction": "horizontal", "title": null, "labelFontSize": 30, "labelFont": "Liberation Sans", "labelColor": "#111", "labelOffset": 35, "columnPadding": 8, "symbolSize": 170, "symbolStrokeWidth": 2, "padding": 0, "labelLimit": 400}}
 }},
{"data": {"name": "ph"},
 "transform": [{"filter": {"field": "phase", "oneOf": ["Al2O3"]}}],
 "mark": {"type": "point", "filled": true, "size": 310, "strokeWidth": 2.2, "opacity": 1},
 "encoding": {
  "x": {"field": "pos", "type": "quantitative", "scale": {"domain": [20, 66.9], "nice": false, "zero": false}, "axis": null},
  "y": {"field": "lvl", "type": "quantitative", "scale": {"domain": [0, 678], "nice": false, "zero": false},
        "axis": {"title": "Intensity", "labels": false, "ticks": false, "domain": false, "grid": false, "titleFontSize": 29, "titleFont": "Liberation Sans", "titleFontWeight": "normal", "titleColor": "#222", "titleAngle": -90, "titleX": -17, "titleY": 375, "titleAlign": "center", "titleBaseline": "alphabetic"}},
  "shape": {"field": "phase", "type": "nominal", "scale": {"domain": ["hcp AlN", "fcc TiN", "fcc AlN", "TiO2, Rutile", "Al2O3"], "range": ["circle", "square", "triangle-up", "square", "circle"]},
            "legend": {"orient": "none", "legendX": 19, "legendY": 22, "direction": "horizontal", "title": null, "labelFontSize": 30, "labelFont": "Liberation Sans", "labelColor": "#111", "labelOffset": 35, "columnPadding": 8, "symbolSize": 170, "symbolStrokeWidth": 2, "padding": 0, "labelLimit": 400}},
  "fill": {"field": "phase", "type": "nominal", "scale": {"domain": ["hcp AlN", "fcc TiN", "fcc AlN", "TiO2, Rutile", "Al2O3"], "range": ["#e6141e", "#2b3a9e", "#3cb44a", "#ffffff", "#ffffff"]},
            "legend": {"orient": "none", "legendX": 19, "legendY": 22, "direction": "horizontal", "title": null, "labelFontSize": 30, "labelFont": "Liberation Sans", "labelColor": "#111", "labelOffset": 35, "columnPadding": 8, "symbolSize": 170, "symbolStrokeWidth": 2, "padding": 0, "labelLimit": 400}},
  "stroke": {"field": "phase", "type": "nominal", "scale": {"domain": ["hcp AlN", "fcc TiN", "fcc AlN", "TiO2, Rutile", "Al2O3"], "range": ["#e6141e", "#2b3a9e", "#3cb44a", "#8a8a8a", "#c77dd0"]},
            "legend": {"orient": "none", "legendX": 19, "legendY": 22, "direction": "horizontal", "title": null, "labelFontSize": 30, "labelFont": "Liberation Sans", "labelColor": "#111", "labelOffset": 35, "columnPadding": 8, "symbolSize": 170, "symbolStrokeWidth": 2, "padding": 0, "labelLimit": 400}}
 }},
{"data": {"name": "lab"},
 "mark": {"type": "text", "align": "left", "baseline": "middle", "fontSize": 28, "font": "Liberation Sans", "color": "#1a1a1a"},
 "encoding": {
  "x": {"field": "x", "type": "quantitative", "scale": {"domain": [20, 66.9], "nice": false, "zero": false}, "axis": null},
  "y": {"field": "y", "type": "quantitative", "scale": {"domain": [0, 678], "nice": false, "zero": false},
        "axis": {"title": "Intensity", "labels": false, "ticks": false, "domain": false, "grid": false, "titleFontSize": 29, "titleFont": "Liberation Sans", "titleFontWeight": "normal", "titleColor": "#222", "titleAngle": -90, "titleX": -17, "titleY": 375, "titleAlign": "center", "titleBaseline": "alphabetic"}},
  "text": {"field": "label"}
 }},
{"data": {"name": "si"},
 "mark": {"type": "text", "align": "center", "baseline": "middle", "fontSize": 28, "font": "Liberation Sans", "color": "#1a1a1a"},
 "encoding": {
  "x": {"field": "x", "type": "quantitative", "scale": {"domain": [20, 66.9], "nice": false, "zero": false}, "axis": null},
  "y": {"field": "y", "type": "quantitative", "scale": {"domain": [0, 678], "nice": false, "zero": false},
        "axis": {"title": "Intensity", "labels": false, "ticks": false, "domain": false, "grid": false, "titleFontSize": 29, "titleFont": "Liberation Sans", "titleFontWeight": "normal", "titleColor": "#222", "titleAngle": -90, "titleX": -17, "titleY": 375, "titleAlign": "center", "titleBaseline": "alphabetic"}},
  "text": {"field": "label"}
 }}
]
}
